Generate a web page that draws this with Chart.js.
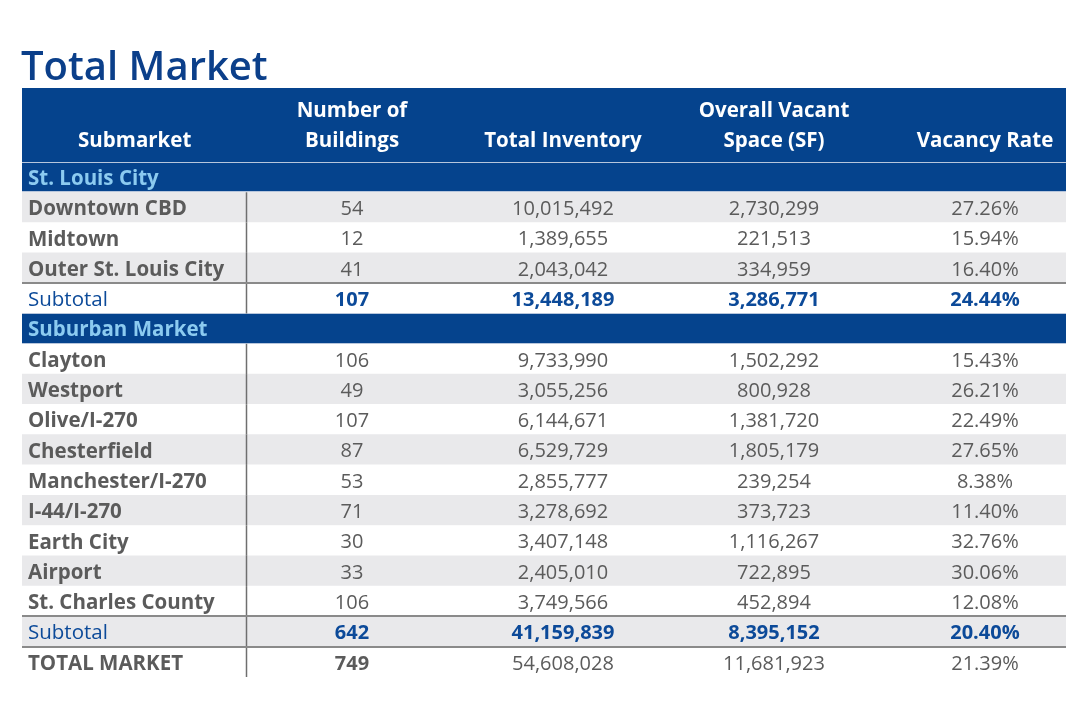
<!DOCTYPE html>
<html>
<head>
<meta charset="utf-8">
<script src="https://cdn.jsdelivr.net/npm/chart.js@4"></script>
<style>
  html, body { margin: 0; padding: 0; background: #fff; }
  #wrap { width: 1067px; height: 728px; position: relative; }
</style>
</head>
<body>
<div id="wrap"><canvas id="marketTable"></canvas></div>
<script>
// table data
const headers = ["Submarket", "Number of\nBuildings", "Total Inventory", "Overall Vacant\nSpace (SF)", "Vacancy Rate"];

const cityName = "St. Louis City";
const cityRows = ["Downtown CBD", "Midtown", "Outer St. Louis City"];
const cityBuildings = [54, 12, 41];
const cityInventory = [10015492, 1389655, 2043042];
const cityVacant = [2730299, 221513, 334959];
const cityRate = [27.26, 15.94, 16.40];
const citySubtotal = [107, 13448189, 3286771, 24.44];

const suburbName = "Suburban Market";
const suburbRows = ["Clayton", "Westport", "Olive/I-270", "Chesterfield", "Manchester/I-270",
  "I-44/I-270", "Earth City", "Airport", "St. Charles County"];
const suburbBuildings = [106, 49, 107, 87, 53, 71, 30, 33, 106];
const suburbInventory = [9733990, 3055256, 6144671, 6529729, 2855777, 3278692, 3407148, 2405010, 3749566];
const suburbVacant = [1502292, 800928, 1381720, 1805179, 239254, 373723, 1116267, 722895, 452894];
const suburbRate = [15.43, 26.21, 22.49, 27.65, 8.38, 11.40, 32.76, 30.06, 12.08];
const suburbSubtotal = [642, 41159839, 8395152, 20.40];

const totalMarket = [749, 54608028, 11681923, 21.39];

// colours
const BLUE = "#05438d";
const LIGHT_BLUE = "#8ccbf0";
const STRIPE = "#e9e9eb";
const TEXT = "#5b5b5b";
const SUB_TEXT = "#0c4a99";
const RULE = "#8a8a8a";
const FONT = "'Open Sans', 'Noto Sans', sans-serif";

// x scale: numeric columns sit at 0..3, first column to the left
const X_MIN = -1.564;
const X_MAX = 3.384;

// build the row list
const rows = [];
rows.push({ kind: "section", label: cityName });
cityRows.forEach((name, i) => {
  rows.push({ kind: "row", label: name, values: [cityBuildings[i], cityInventory[i], cityVacant[i], cityRate[i]] });
});
rows.push({ kind: "subtotal", label: "Subtotal", values: citySubtotal });
rows.push({ kind: "section", label: suburbName });
suburbRows.forEach((name, i) => {
  rows.push({ kind: "row", label: name, values: [suburbBuildings[i], suburbInventory[i], suburbVacant[i], suburbRate[i]] });
});
rows.push({ kind: "subtotal", label: "Subtotal", values: suburbSubtotal });
rows.push({ kind: "total", label: "TOTAL MARKET", values: totalMarket });

function rowColor(row, i) {
  if (row.kind === "section") return BLUE;
  return i % 2 === 1 ? STRIPE : "#ffffff";
}

function fmt(v, col) {
  if (col === 3) return v.toFixed(2) + "%";
  return v.toLocaleString("en-US");
}

const tablePlugin = {
  id: "tablePlugin",
  afterDatasetsDraw(chart) {
    const { ctx, chartArea, scales } = chart;
    const x = scales.x;
    const y = scales.y;
    const rowH = (chartArea.bottom - chartArea.top) / rows.length;
    const left = chartArea.left;
    const right = chartArea.right;
    const sepX = Math.round(x.getPixelForValue(-0.5)) + 0.5;

    ctx.save();

    // title
    ctx.fillStyle = "#0b3f8a";
    ctx.font = `600 40px ${FONT}`;
    ctx.textAlign = "left";
    ctx.textBaseline = "alphabetic";
    ctx.fillText("Total Market", left - 1, 80);

    // header block
    const headTop = 88;
    ctx.fillStyle = BLUE;
    ctx.fillRect(left, headTop, right - left, chartArea.top - headTop);
    ctx.fillStyle = "#ffffff";
    ctx.font = `700 20.5px ${FONT}`;
    ctx.textBaseline = "middle";
    headers.forEach((h, c) => {
      const lines = h.split("\n");
      const cx = c === 0 ? x.getPixelForValue(-1.03) : x.getPixelForValue(c - 1);
      ctx.textAlign = "center";
      const lastY = 141;
      lines.forEach((ln, k) => {
        ctx.fillText(ln, cx, lastY - (lines.length - 1 - k) * 30);
      });
    });

    // section borders
    ctx.strokeStyle = "#b7c6dc";
    ctx.lineWidth = 1;
    rows.forEach((row, i) => {
      if (row.kind !== "section") return;
      const cy = y.getPixelForValue(i);
      const t = Math.round(cy - rowH / 2) + 0.5;
      const b = Math.round(cy + rowH / 2) - 0.5;
      ctx.beginPath();
      ctx.moveTo(left, t); ctx.lineTo(right, t);
      ctx.moveTo(left, b); ctx.lineTo(right, b);
      ctx.stroke();
    });

    // vertical separator
    ctx.strokeStyle = "#6f6f6f";
    ctx.lineWidth = 1.5;
    rows.forEach((row, i) => {
      if (row.kind === "section") return;
      const cy = y.getPixelForValue(i);
      ctx.beginPath();
      ctx.moveTo(sepX, cy - rowH / 2);
      ctx.lineTo(sepX, cy + rowH / 2);
      ctx.stroke();
    });

    // rules above subtotal and total rows
    ctx.strokeStyle = RULE;
    ctx.lineWidth = 2;
    rows.forEach((row, i) => {
      if (row.kind !== "subtotal" && row.kind !== "total") return;
      const ty = Math.round(y.getPixelForValue(i) - rowH / 2);
      ctx.beginPath();
      ctx.moveTo(left, ty); ctx.lineTo(right, ty);
      ctx.stroke();
    });

    // cell text
    rows.forEach((row, i) => {
      const cy = y.getPixelForValue(i) + 2;
      ctx.textBaseline = "middle";
      ctx.textAlign = "left";
      const lx = left + 6;
      if (row.kind === "section") {
        ctx.fillStyle = LIGHT_BLUE;
        ctx.font = `700 20.5px ${FONT}`;
        ctx.fillText(row.label, lx, cy);
        return;
      }
      if (row.kind === "subtotal") {
        ctx.fillStyle = SUB_TEXT;
        ctx.font = `400 20.5px ${FONT}`;
      } else {
        ctx.fillStyle = TEXT;
        ctx.font = `700 20.5px ${FONT}`;
      }
      ctx.fillText(row.label, lx, cy);

      ctx.textAlign = "center";
      row.values.forEach((v, c) => {
        if (row.kind === "subtotal") {
          ctx.fillStyle = SUB_TEXT;
          ctx.font = `700 20px ${FONT}`;
        } else if (row.kind === "total" && c === 0) {
          ctx.fillStyle = TEXT;
          ctx.font = `700 20px ${FONT}`;
        } else {
          ctx.fillStyle = TEXT;
          ctx.font = `400 20px ${FONT}`;
        }
        ctx.fillText(fmt(v, c), x.getPixelForValue(c), cy);
      });
    });

    ctx.restore();
  }
};

new Chart(document.getElementById("marketTable"), {
  type: "bar",
  data: {
    labels: rows.map((r) => r.label),
    datasets: [{
      data: rows.map(() => [X_MIN, X_MAX]),
      backgroundColor: rows.map(rowColor),
      borderWidth: 0,
      barPercentage: 1,
      categoryPercentage: 1,
    }],
  },
  options: {
    indexAxis: "y",
    responsive: true,
    maintainAspectRatio: false,
    animation: false,
    layout: { padding: { top: 162, left: 22, right: 1, bottom: 51 } },
    scales: {
      x: { type: "linear", min: X_MIN, max: X_MAX, display: false },
      y: { type: "category", display: false, offset: true },
    },
    plugins: {
      legend: { display: false },
      tooltip: { enabled: false },
      title: { display: false },
    },
  },
  plugins: [tablePlugin],
});
</script>
</body>
</html>
